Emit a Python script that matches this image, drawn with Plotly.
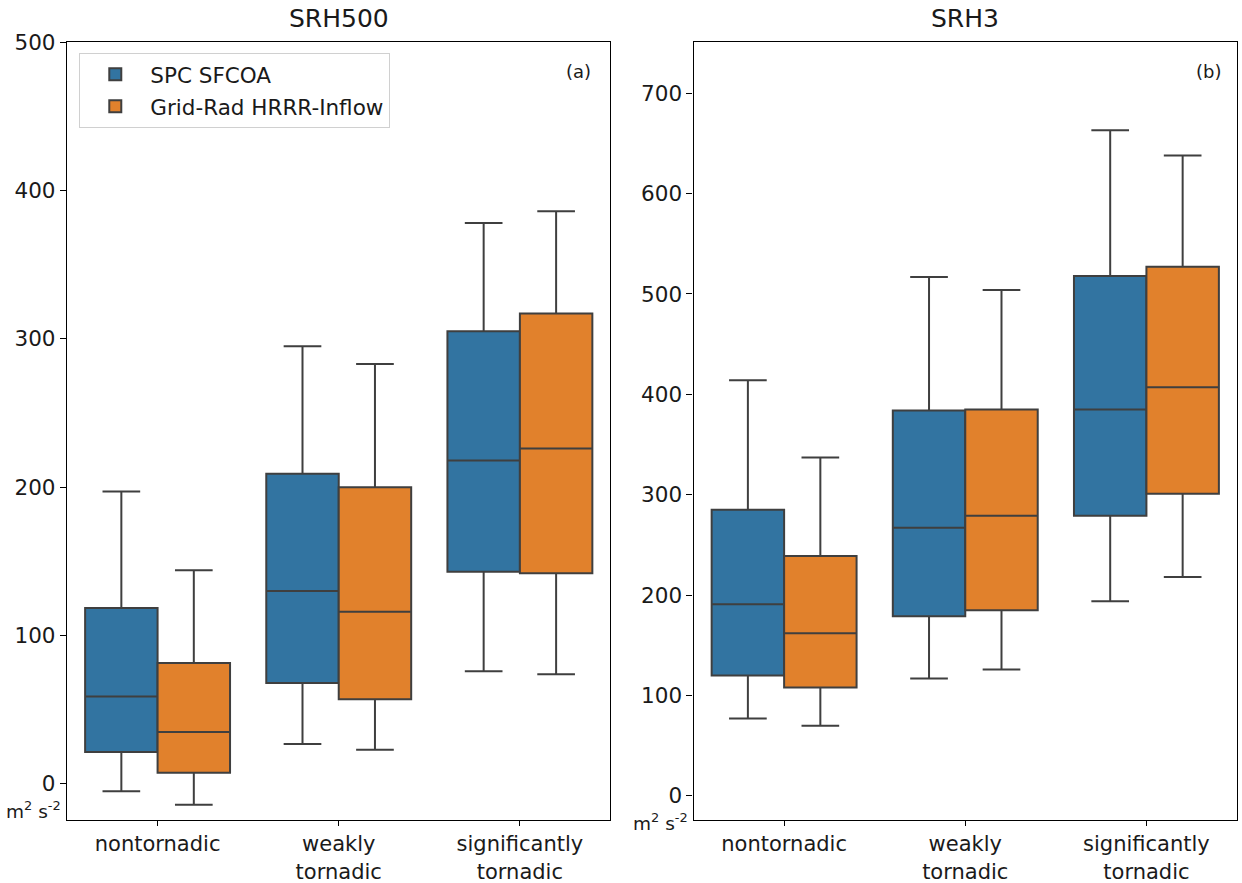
import plotly.graph_objects as go
from plotly.subplots import make_subplots

# Categories on the x axis
categories = ["nontornadic", "weakly<br>tornadic", "significantly<br>tornadic"]
series_names = ["SPC SFCOA", "Grid-Rad HRRR-Inflow"]

# SRH500 box statistics (m2 s-2): lower whisker, Q1, median, Q3, upper whisker
srh500_spc_low = [-5, 27, 76]
srh500_spc_q1 = [21.6, 68, 143]
srh500_spc_med = [59, 130, 218]
srh500_spc_q3 = [118.6, 209, 305]
srh500_spc_high = [197, 295, 378]

srh500_grid_low = [-14, 23, 74]
srh500_grid_q1 = [7.5, 57, 142]
srh500_grid_med = [35, 116, 226]
srh500_grid_q3 = [81.5, 200, 317]
srh500_grid_high = [144, 283, 386]

# SRH3 box statistics (m2 s-2)
srh3_spc_low = [77, 117, 194]
srh3_spc_q1 = [120, 179, 279]
srh3_spc_med = [191, 267, 385]
srh3_spc_q3 = [285, 384, 518]
srh3_spc_high = [414, 517, 663]

srh3_grid_low = [70, 126, 218]
srh3_grid_q1 = [108, 185, 301]
srh3_grid_med = [162, 279, 407]
srh3_grid_q3 = [239, 385, 527]
srh3_grid_high = [337, 504, 638]

colors = ["#3274A1", "#E1812C"]
edge = "#3f3f3f"
FONT = "DejaVu Sans"
TEXT = "#1a1a1a"

fig = make_subplots(rows=1, cols=2, horizontal_spacing=0.071,
                    subplot_titles=("SRH500", "SRH3"))

panels = [
    (1, [(srh500_spc_low, srh500_spc_q1, srh500_spc_med, srh500_spc_q3, srh500_spc_high),
         (srh500_grid_low, srh500_grid_q1, srh500_grid_med, srh500_grid_q3, srh500_grid_high)]),
    (2, [(srh3_spc_low, srh3_spc_q1, srh3_spc_med, srh3_spc_q3, srh3_spc_high),
         (srh3_grid_low, srh3_grid_q1, srh3_grid_med, srh3_grid_q3, srh3_grid_high)]),
]

for col, stats in panels:
    for i, (lo, q1, med, q3, hi) in enumerate(stats):
        fig.add_trace(go.Box(
            name=series_names[i],
            x=categories,
            lowerfence=lo, q1=q1, median=med, q3=q3, upperfence=hi,
            fillcolor=colors[i],
            line=dict(color=edge, width=2),
            whiskerwidth=0.52,
            offsetgroup=str(i),
            legendgroup=str(i),
            showlegend=(col == 1),
            boxpoints=False,
            hoverinfo="skip",
        ), row=1, col=col)

axis_common = dict(showline=True, linecolor="black", linewidth=1.3, mirror=True,
                   ticks="outside", tickcolor="black", showgrid=False,
                   zeroline=False, automargin=False)

fig.update_xaxes(range=[-0.5, 2.5], ticklen=5,
                 tickfont=dict(size=21, color=TEXT, family=FONT), **axis_common)
fig.update_yaxes(ticklen=6, tickfont=dict(size=21.5, color=TEXT, family=FONT), **axis_common)
fig.update_yaxes(range=[-24.3, 500], tickvals=[0, 100, 200, 300, 400, 500], row=1, col=1)
fig.update_yaxes(range=[-24, 751], tickvals=[0, 100, 200, 300, 400, 500, 600, 700], row=1, col=2)

fig.update_layout(
    width=1242, height=883,
    margin=dict(l=67, r=5, t=42, b=63),
    paper_bgcolor="white", plot_bgcolor="white",
    font=dict(family=FONT, size=21.5, color=TEXT),
    boxmode="group", boxgap=0.2, boxgroupgap=0,
    legend=dict(x=0.0105, y=0.986, xanchor="left", yanchor="top",
                bgcolor="rgba(255,255,255,0.9)", bordercolor="#d0d0d0", borderwidth=1,
                font=dict(size=21.5, family=FONT, color=TEXT), tracegroupgap=1,
                itemwidth=60),
)

# Subplot titles
for ann in fig.layout.annotations:
    ann.font = dict(size=25, family=FONT, color=TEXT)
    ann.yshift = 7

# Panel letters
fig.add_annotation(text="(a)", xref="x domain", yref="y domain", x=0.942, y=0.962,
                   xanchor="center", yanchor="middle", showarrow=False,
                   font=dict(size=18, family=FONT, color=TEXT))
fig.add_annotation(text="(b)", xref="x2 domain", yref="y2 domain", x=0.948, y=0.962,
                   xanchor="center", yanchor="middle", showarrow=False,
                   font=dict(size=18, family=FONT, color=TEXT))

# Unit labels beneath the zero tick
unit = "m<sup>2</sup> s<sup>-2</sup>"
fig.add_annotation(text=unit, xref="x domain", yref="y", x=0, y=0, xanchor="right",
                   yanchor="top", xshift=-4, yshift=-12, showarrow=False,
                   font=dict(size=18.5, family=FONT, color=TEXT))
fig.add_annotation(text=unit, xref="x2 domain", yref="y2", x=0, y=0, xanchor="right",
                   yanchor="top", xshift=-4, yshift=-12, showarrow=False,
                   font=dict(size=18.5, family=FONT, color=TEXT))

fig.write_html("out.html")
